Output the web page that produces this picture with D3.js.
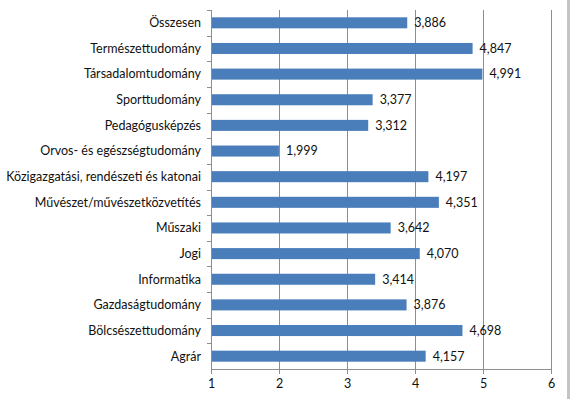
<!DOCTYPE html>
<html lang="hu">
  <head>
    <meta charset="utf-8">
    <title>Átlagok képzési területenként</title>
    <script src="https://cdn.jsdelivr.net/npm/d3@7"></script>
    <style>
      body { margin: 0; background: #fff; }
      text { font-family: Lato, "Open Sans", sans-serif; fill: #111; }
    </style>
  </head>
  <body>
    <div id="chart"></div>
    <script>
      // categories top to bottom as in the picture
      const categories = [
          "Összesen",
          "Természettudomány",
          "Társadalomtudomány",
          "Sporttudomány",
          "Pedagógusképzés",
          "Orvos- és egészségtudomány",
          "Közigazgatási, rendészeti és katonai",
          "Művészet/művészetközvetítés",
          "Műszaki",
          "Jogi",
          "Informatika",
          "Gazdaságtudomány",
          "Bölcsészettudomány",
          "Agrár"
      ];
      const values = [3.886, 4.847, 4.991, 3.377, 3.312, 1.999, 4.197,
                      4.351, 3.642, 4.070, 3.414, 3.876, 4.698, 4.157];
      const xTicks = [1, 2, 3, 4, 5, 6];

      const svgWidth = 572, svgHeight = 399;
      const margin = { top: 10, right: 21, bottom: 30, left: 211 },
            width = svgWidth - margin.left - margin.right,
            height = svgHeight - margin.top - margin.bottom;

      const hu = d3.formatLocale({ decimal: ",", thousands: " ", grouping: [3], currency: ["", " Ft"] });
      const fmt = hu.format(".3f");

      const root = d3.select("#chart").append("svg")
          .attr("width", svgWidth)
          .attr("height", svgHeight);

      // grey page edge on the right
      root.append("rect")
          .attr("x", 567).attr("y", 0)
          .attr("width", 3).attr("height", svgHeight)
          .attr("fill", "#c4c4c4");

      const svg = root.append("g")
          .attr("transform", `translate(${margin.left},${margin.top})`);

      const x = d3.scaleLinear().domain([1, 6]).range([0, width]);
      const y = d3.scaleBand().domain(categories).range([0, height]).paddingInner(0.57).paddingOuter(0.285);
      const yEdges = d3.scaleBand().domain(categories).range([0, height]);

      // vertical gridlines
      svg.append("g")
          .selectAll("line")
          .data(xTicks.slice(1))
          .join("line")
          .attr("x1", d => Math.round(x(d)) + 0.5)
          .attr("x2", d => Math.round(x(d)) + 0.5)
          .attr("y1", 0)
          .attr("y2", height)
          .attr("stroke", "#8e8e8e");

      // bars
      svg.append("g")
          .selectAll("rect")
          .data(values)
          .join("rect")
          .attr("x", x(1))
          .attr("y", (d, i) => y(categories[i]))
          .attr("width", d => x(d) - x(1))
          .attr("height", y.bandwidth())
          .attr("fill", "#4a7ebb");

      // value labels
      svg.append("g")
          .selectAll("text")
          .data(values)
          .join("text")
          .attr("x", d => x(d) + 7)
          .attr("y", (d, i) => y(categories[i]) + y.bandwidth() / 2)
          .attr("dy", "0.35em")
          .style("font-size", "12.5px")
          .text(d => fmt(d));

      // left axis: line + ticks at band edges
      const yAxis = svg.append("g");
      yAxis.append("line")
          .attr("x1", 0.5).attr("x2", 0.5)
          .attr("y1", 0).attr("y2", height)
          .attr("stroke", "#8e8e8e");
      yAxis.selectAll("line.tick")
          .data(categories)
          .join("line")
          .attr("class", "tick")
          .attr("x1", -4).attr("x2", 0)
          .attr("y1", d => Math.round(yEdges(d)) + 0.5)
          .attr("y2", d => Math.round(yEdges(d)) + 0.5)
          .attr("stroke", "#8e8e8e");
      yAxis.selectAll("text")
          .data(categories)
          .join("text")
          .attr("x", -10)
          .attr("y", d => y(d) + y.bandwidth() / 2)
          .attr("dy", "0.35em")
          .attr("text-anchor", "end")
          .style("font-size", "12.5px")
          .text(d => d);

      // bottom axis
      const xAxis = d3.axisBottom(x)
          .tickValues(xTicks)
          .tickFormat(d3.format("d"))
          .tickSizeInner(5)
          .tickSizeOuter(0)
          .tickPadding(5);

      svg.append("g")
          .attr("transform", `translate(0,${height})`)
          .call(xAxis)
          .call(g => g.selectAll("path, line").attr("stroke", "#8e8e8e"))
          .call(g => g.selectAll("text")
                .style("font-family", "Lato, 'Open Sans', sans-serif")
                .style("font-size", "12.5px")
                .attr("fill", "#111"));
    </script>
  </body>
</html>
